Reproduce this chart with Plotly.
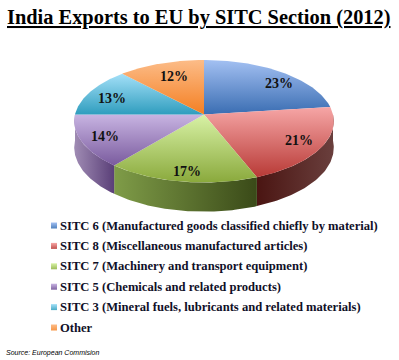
import numpy as np
import plotly.graph_objects as go

# --- data ---
categories = [
    "SITC 6 (Manufactured goods classified chiefly by material)",
    "SITC 8 (Miscellaneous manufactured articles)",
    "SITC 7 (Machinery and transport equipment)",
    "SITC 5 (Chemicals and related products)",
    "SITC 3 (Mineral fuels, lubricants and related materials)",
    "Other",
]
values = [23, 21, 17, 14, 13, 12]
title_text = "India Exports to EU by SITC Section (2012)"
source_text = "Source: European Commision"

# --- style ---
top_light = ["#a3c0f2", "#f6a6a6", "#d8f2a6", "#c8b4e2", "#a4e0f8", "#fcbc88"]
top_dark = ["#3a6db2", "#b83a36", "#8aa93c", "#7a5b9e", "#2f9dbe", "#f47f22"]
wall_left = ["#3a6db2", "#4a1512", "#7f9c48", "#a08cb4", "#2f9dbe", "#f47f22"]
wall_right = ["#24467a", "#6a3f3d", "#3a4a18", "#5a3f78", "#1e6a82", "#a65515"]
swatch = ["#4f81bd", "#c0504d", "#9bbb59", "#8064a2", "#4bacc6", "#f79646"]
label_r = [0.81, 0.80, 0.86, 0.83, 0.80, 0.72]
label_turn = [6, 0, 0, 0, -3, 0]  # degrees
LABEL_DX = 2

CX, CY, RX, RY, K, DEPTH = 204, 114.5, 129, 60.5, 0.11, 26
SERIF = "Liberation Serif"


def project(theta, r=1.0, drop=0.0):
    u, v = r * np.sin(theta), -r * np.cos(theta)
    s = 1 / (1 - K * v)
    return CX + RX * u * s, CY + RY * v * s + drop * s


def scale(a, b):
    return [[0, a], [1, b]]


fractions = np.array(values) / sum(values)
edges = np.concatenate([[0], np.cumsum(fractions)]) * 2 * np.pi
fig = go.Figure()

# side walls of the front half
for i in range(len(values)):
    lo, hi = max(edges[i], np.pi / 2), min(edges[i + 1], 3 * np.pi / 2)
    if hi <= lo:
        continue
    t = np.linspace(lo, hi, 60)
    x1, y1 = project(t)
    x2, y2 = project(t[::-1], drop=DEPTH)
    fig.add_trace(go.Scatter(
        x=np.concatenate([x1, x2]), y=np.concatenate([y1, y2]),
        mode="lines", line=dict(width=0), fill="toself",
        fillgradient=dict(type="horizontal", colorscale=scale(wall_left[i], wall_right[i])),
        hoverinfo="skip", showlegend=False,
    ))

# top faces
for i, name in enumerate(categories):
    t = np.linspace(edges[i], edges[i + 1], 80)
    x, y = project(t)
    fig.add_trace(go.Scatter(
        x=np.concatenate([[CX], x, [CX]]), y=np.concatenate([[CY], y, [CY]]),
        mode="lines", line=dict(width=0), fill="toself",
        fillgradient=dict(type="vertical", colorscale=scale(top_dark[i], top_light[i])),
        name=name, text=f"{values[i]}%", hoverinfo="name+text", showlegend=False,
    ))

# value labels
for i, val in enumerate(values):
    mid = (edges[i] + edges[i + 1]) / 2 + np.radians(label_turn[i])
    x, y = project(mid, r=label_r[i])
    fig.add_annotation(x=float(x) + LABEL_DX, y=float(y), text=f"<b>{val}%</b>", showarrow=False,
                       font=dict(family=SERIF, size=14, color="#111111"))

# legend
LEG_X, LEG_Y, LEG_DY = 54, 225.5, 20.4
for i, name in enumerate(categories):
    y = LEG_Y + i * LEG_DY
    fig.add_trace(go.Scatter(
        x=[LEG_X], y=[y], mode="markers",
        marker=dict(symbol="square", size=6, color=top_light[i],
                    gradient=dict(type="vertical", color=swatch[i])),
        hoverinfo="skip", showlegend=False,
    ))
    fig.add_annotation(x=LEG_X + 4, y=y, text=f"<b>{name}</b>", showarrow=False,
                       xanchor="left", font=dict(family=SERIF, size=12.6, color="#101028"))

fig.add_annotation(x=5, y=17, text=f"<b><u>{title_text}</u></b>", showarrow=False,
                   xanchor="left", font=dict(family=SERIF, size=20.4, color="#000000"))
fig.add_annotation(x=4, y=353, text=f"<i>{source_text}</i>", showarrow=False,
                   xanchor="left", font=dict(family="Liberation Sans", size=7, color="#000000"))

fig.update_layout(
    width=399, height=360, margin=dict(l=0, r=0, t=0, b=0),
    paper_bgcolor="white", plot_bgcolor="white",
    xaxis=dict(range=[0, 399], visible=False, fixedrange=True),
    yaxis=dict(range=[360, 0], visible=False, fixedrange=True),
)
fig.write_html("out.html", config={"displayModeBar": False},
               post_script="document.body.style.margin='0';document.body.style.overflow='hidden';")
